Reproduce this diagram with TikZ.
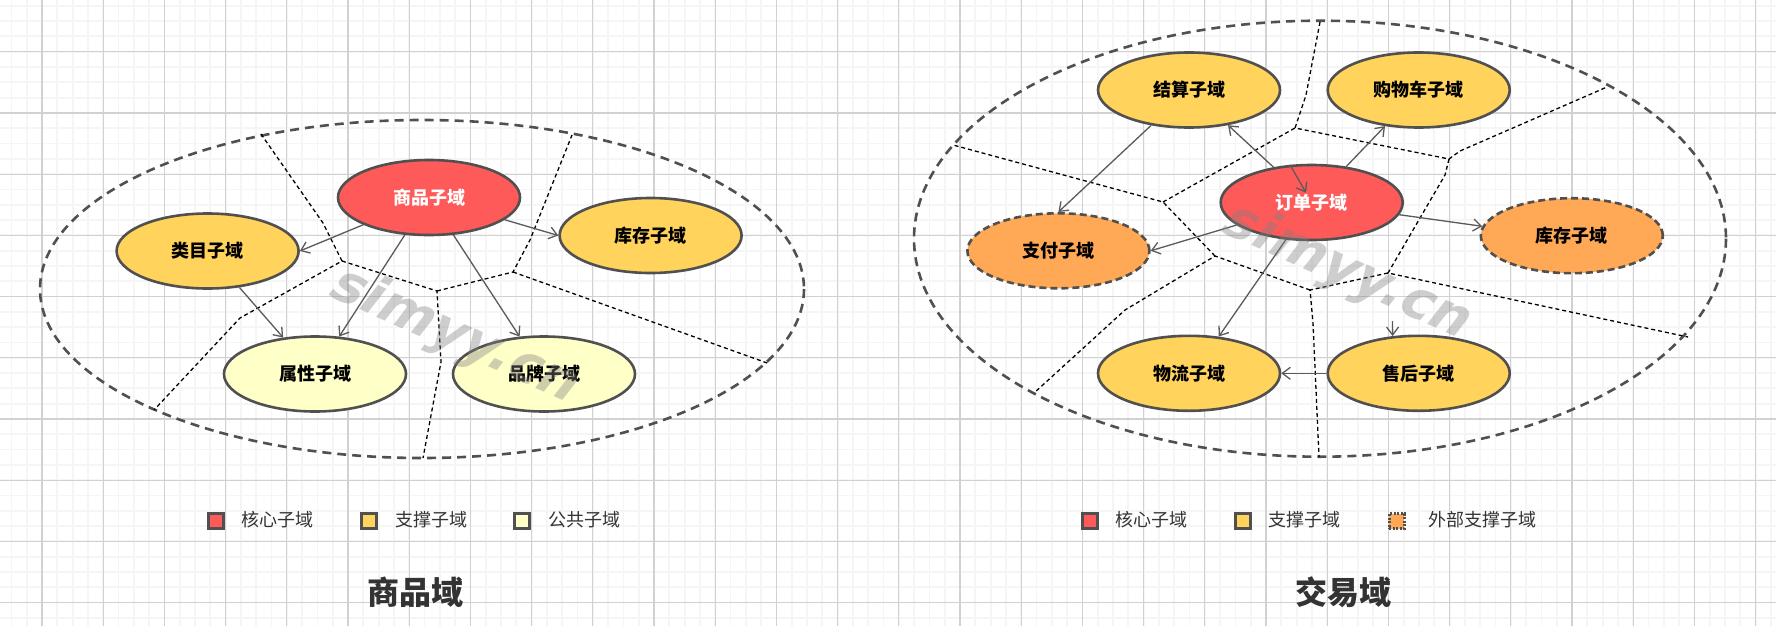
\documentclass[tikz,border=0pt]{standalone}
\usepackage{fontspec}
\setmainfont{Noto Sans CJK SC}
\newfontfamily\wmfont{DejaVu Sans}[FakeSlant=0.25]
\usetikzlibrary{arrows.meta,shapes.geometric}
\definecolor{core}{HTML}{FF5A5A}
\definecolor{supp}{HTML}{FFD35C}
\definecolor{comm}{HTML}{FFFFC8}
\definecolor{extn}{HTML}{FFA957}
\definecolor{bordc}{HTML}{505050}
\definecolor{arrc}{HTML}{5A5A5A}
\definecolor{txtc}{HTML}{333333}
\tikzset{
  gmin/.style={draw=black!4,line width=1.8pt},
  gmaj/.style={draw=black!18,line width=1.2pt},
  sub/.style={ellipse,draw=bordc,line width=2.6pt,minimum width=182pt,minimum height=75pt,
    font=\fontsize{18}{18}\selectfont\bfseries},
  ext/.style={sub,fill=extn,dash pattern=on 7pt off 4pt},
  arr/.style={draw=arrc,line width=1.3pt,-{Straight Barb[length=8pt,width=12pt]}},
  zone/.style={draw=bordc,line width=2.6pt,dash pattern=on 9pt off 6pt},
  part/.style={draw=black,line width=1.3pt,dash pattern=on 4pt off 3pt},
  key/.style={draw=bordc,line width=3pt,minimum size=15pt,inner sep=0pt},
  keytxt/.style={anchor=west,inner sep=0pt,text=txtc,font=\fontsize{18}{18}\selectfont},
  title/.style={text=txtc,font=\fontsize{32}{32}\selectfont\bfseries},
  wmark/.style={rotate=-24,text=gray,opacity=0.38,font=\wmfont\bfseries\fontsize{54}{54}\selectfont}
}
\begin{document}
\begin{tikzpicture}[x=1pt,y=-1pt]
\useasboundingbox (0,0) rectangle (1776,626);
\fill[white] (0,0) rectangle (1776,626);
\foreach \i in {-2,...,113} \draw[gmin] ({42+15.3*\i},0) -- ({42+15.3*\i},626);
\foreach \j in {-3,...,37} \draw[gmin] (0,{51.7+15.3*\j}) -- (1776,{51.7+15.3*\j});
\foreach \i in {0,...,28} \draw[gmaj] ({42+61.2*\i},0) -- ({42+61.2*\i},626);
\foreach \j in {0,...,9} \draw[gmaj] (0,{51.7+61.2*\j}) -- (1776,{51.7+61.2*\j});

\draw[zone] (422,289) ellipse [x radius=382, y radius=169];
\draw[part] (261,134) -- (323,223) -- (342,261) -- (240,318) -- (154,410);
\draw[part] (342,261) -- (437,291) -- (441,362) -- (423,458);
\draw[part] (437,291) -- (513,272) -- (530,240) -- (572,135);
\draw[part] (513,272) -- (770,364);

\node[sub,fill=core,text=white] (sp) at (429,197.5) {商品子域};
\node[sub,fill=supp] (lm) at (207.6,251) {类目子域};
\node[sub,fill=supp] (kc) at (650.6,235.5) {库存子域};
\node[sub,fill=comm] (sx) at (315,374) {属性子域};
\node[sub,fill=comm] (pp) at (544,374) {品牌子域};
\draw[arr] (sp) -- (lm.east);
\draw[arr] (sp) -- (kc.west);
\draw[arr] (sp) -- (sx);
\draw[arr] (sp) -- (pp);
\draw[arr] (lm) -- (sx);

\draw[zone] (1320,238.7) ellipse [x radius=406, y radius=218];
\draw[part] (1320,22) -- (1306,95) -- (1295,128) -- (1449,159) -- (1460,151) -- (1607,87);
\draw[part] (1449,159) -- (1445,175) -- (1388,273) -- (1688,337);
\draw[part] (1388,273) -- (1310,290) -- (1313,323) -- (1319,457);
\draw[part] (1310,290) -- (1215,256) -- (1125,310) -- (1034,393);
\draw[part] (1215,256) -- (1163,202) -- (953,145);
\draw[part] (1163,202) -- (1295,128);

\node[sub,fill=core,text=white] (dd) at (1311.7,202.5) {订单子域};
\node[sub,fill=supp] (js) at (1189,90) {结算子域};
\node[sub,fill=supp] (gwc) at (1418.7,90) {购物车子域};
\node[ext] (zf) at (1058.4,250.8) {支付子域};
\node[ext] (kc2) at (1571.8,235.7) {库存子域};
\node[sub,fill=supp] (wl) at (1189,373.3) {物流子域};
\node[sub,fill=supp] (sh) at (1418.7,373.3) {售后子域};
\coordinate (ddin) at (1306,192.7);
\coordinate (shin) at (1392.5,321);
\draw[arr] (dd) -- (js.-42);
\draw[arr] (dd.120) -- (ddin);
\draw[arr] (dd) -- (gwc.-133);
\draw[arr] (js) -- (zf.north);
\draw[arr] (dd) -- (zf.east);
\draw[arr] (dd) -- (kc2.174);
\draw[arr] (dd) -- (wl.51);
\draw[arr] (sh) -- (wl);
\draw[arr] (shin) -- (sh.125);

\node[key,fill=core] (ka1) at (216,521) {};
\node[keytxt] (ta1) at (241.7,520) {核心子域};
\node[key,fill=supp] (ka2) at (369,521) {};
\node[keytxt] (ta2) at (395,520) {支撑子域};
\node[key,fill=comm] (ka3) at (522,521) {};
\node[keytxt] (ta3) at (548.3,520) {公共子域};
\node[key,fill=core] (kb1) at (1090,521) {};
\node[keytxt] (tb1) at (1115,520) {核心子域};
\node[key,fill=supp] (kb2) at (1243,521) {};
\node[keytxt] (tb2) at (1268.3,520) {支撑子域};
\node[key,fill=extn,dash pattern=on 2pt off 1.5pt] (kb3) at (1396.5,521) {};
\node[keytxt] (tb3) at (1428.3,520) {外部支撑子域};

\node[title] (tta) at (415,592) {商品域};
\node[title] (ttb) at (1343,592) {交易域};

\node[wmark] (wma) at (452,335) {simyy.cn};
\node[wmark] (wmb) at (1344,271) {simyy.cn};
\end{tikzpicture}
\end{document}
